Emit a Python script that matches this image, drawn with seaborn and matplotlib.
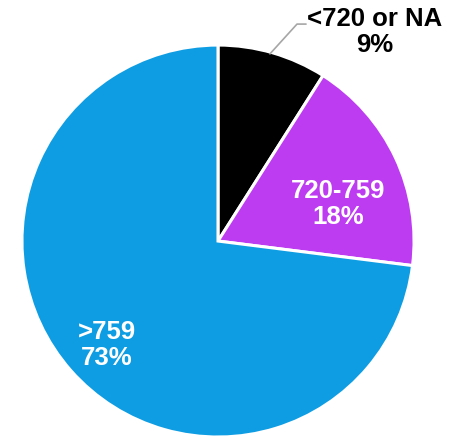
import matplotlib
matplotlib.use("Agg")
import matplotlib.pyplot as plt
import seaborn as sns

labels = ["<720 or NA", "720-759", ">759"]
shares = [9, 18, 73]
colors = ["#000000", "#BD3CF2", "#0E9DE3"]

sns.set_style("white")
plt.rcParams['font.family'] = ['Liberation Sans', 'DejaVu Sans']

fig = plt.figure(figsize=(4.56, 4.39), dpi=100)
ax = fig.add_axes([0, 0, 1, 1])

wedges, _ = ax.pie(shares, colors=colors, startangle=90, counterclock=False,
                   radius=1, center=(0, 0),
                   wedgeprops=dict(edgecolor="white", linewidth=2.2))

ax.set_xlim(-1.112, 1.214)
ax.set_ylim(-1.005, 1.235)
ax.set_aspect("auto")
ax.axis("off")

fs = 18.5
# inside labels
ax.text(0.612, 0.194, f"{labels[1]}\n{shares[1]}%", color="white", fontsize=fs,
        fontweight="bold", ha="center", va="center", linespacing=1.12)
ax.text(-0.566, -0.526, f"{labels[2]}\n{shares[2]}%", color="white", fontsize=fs,
        fontweight="bold", ha="center", va="center", linespacing=1.12)

# outside label with leader line
ax.plot([0.265, 0.403, 0.449], [0.955, 1.107, 1.107], color="#A6A6A6", lw=1.2,
        clip_on=False)
ax.text(0.80, 1.071, f"{labels[0]}\n{shares[0]}%", color="black", fontsize=fs,
        fontweight="bold", ha="center", va="center", linespacing=1.12)

fig.savefig("out.png", dpi=100)
